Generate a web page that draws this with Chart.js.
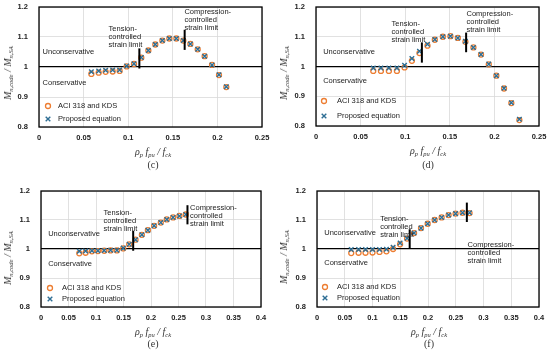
<!DOCTYPE html>
<html>
<head>
<meta charset="utf-8">
<script src="https://cdn.jsdelivr.net/npm/chart.js@4.4.1/dist/chart.umd.min.js"></script>
<style>
    body { margin: 0; background: #fff; width: 550px; height: 359px; overflow: hidden; position: relative; }
    .panel { position: absolute; width: 275px; height: 180px; }
    .panel canvas { position: absolute; left: 0; top: 0; }
    .ytitle, .xtitle, .caption {
        position: absolute; white-space: nowrap; color: #333; line-height: 1;
        font-family: 'Liberation Serif', 'DejaVu Serif', serif;
    }
    .ytitle { font-style: italic; font-size: 10px; transform: translate(-50%, -50%) rotate(-90deg); }
    .xtitle { font-style: italic; font-size: 10px; transform: translate(-50%, -50%); }
    .ytitle sub, .xtitle sub { font-size: 6.5px; vertical-align: baseline; position: relative; top: 0.35em; }
    .caption { font-size: 10px; transform: translate(-50%, -50%); }
</style>
</head>
<body>

<div class="panel" id="panelC" style="left:0;top:0"><canvas id="chartC" width="275" height="180"></canvas></div>
<div class="panel" id="panelD" style="left:275px;top:0"><canvas id="chartD" width="275" height="180"></canvas></div>
<div class="panel" id="panelE" style="left:0;top:180px"><canvas id="chartE" width="275" height="180"></canvas></div>
<div class="panel" id="panelF" style="left:275px;top:180px"><canvas id="chartF" width="275" height="180"></canvas></div>

<script>
// tick labels
const xTicksShort = [0, 0.05, 0.1, 0.15, 0.2, 0.25];
const xLabelsShort = ['0', '0.05', '0.1', '0.15', '0.2', '0.25'];
const xTicksLong = [0, 0.05, 0.1, 0.15, 0.2, 0.25, 0.3, 0.35, 0.4];
const xLabelsLong = ['0', '0.05', '0.1', '0.15', '0.2', '0.25', '0.3', '0.35', '0.4'];
const yTicks = [0.8, 0.9, 1, 1.1, 1.2];
const yLabels = ['0.8', '0.9', '1', '1.1', '1.2'];

// (c)
const xC = [0.0587, 0.0669, 0.0747, 0.0826, 0.0904, 0.0983, 0.1065, 0.1147, 0.1226, 0.1304, 0.1383, 0.1461, 0.154, 0.1618, 0.1697, 0.1779, 0.1857, 0.194, 0.2018, 0.21];
const aciC = [0.977, 0.981, 0.984, 0.985, 0.987, 1.002, 1.010, 1.031, 1.055, 1.075, 1.088, 1.095, 1.095, 1.088, 1.077, 1.059, 1.036, 1.007, 0.973, 0.933];
const propC = [0.984, 0.987, 0.989, 0.990, 0.990, 1.003, 1.011, 1.032, 1.055, 1.075, 1.088, 1.095, 1.095, 1.088, 1.077, 1.059, 1.036, 1.007, 0.974, 0.934];
const tensionC = [0.1125, 0.995, 1.062];
const compressionC = [0.1633, 1.057, 1.124];

// (d)
const xD = [0.0642, 0.0728, 0.0817, 0.0907, 0.0993, 0.1075, 0.116, 0.125, 0.1332, 0.1422, 0.1507, 0.159, 0.1675, 0.1765, 0.185, 0.1937, 0.2022, 0.2108, 0.219, 0.228];
const aciD = [0.985, 0.985, 0.985, 0.985, 0.997, 1.019, 1.045, 1.070, 1.090, 1.100, 1.102, 1.096, 1.083, 1.064, 1.040, 1.007, 0.969, 0.926, 0.877, 0.820];
const propD = [0.995, 0.995, 0.995, 0.995, 1.004, 1.027, 1.051, 1.075, 1.091, 1.100, 1.102, 1.096, 1.085, 1.064, 1.040, 1.008, 0.969, 0.927, 0.878, 0.823];
const tensionD = [0.1187, 1.013, 1.081];
const compressionD = [0.1683, 1.048, 1.114];

// (e)
const xE = [0.0696, 0.0811, 0.0926, 0.1035, 0.115, 0.1265, 0.138, 0.1495, 0.1604, 0.1719, 0.1834, 0.1943, 0.2057, 0.2178, 0.2287, 0.2402, 0.2517, 0.2632];
const aciE = [0.985, 0.987, 0.992, 0.993, 0.994, 0.995, 0.995, 1.002, 1.016, 1.032, 1.049, 1.065, 1.080, 1.091, 1.102, 1.109, 1.114, 1.119];
const propE = [0.992, 0.993, 0.994, 0.994, 0.995, 0.996, 0.996, 1.003, 1.016, 1.032, 1.049, 1.065, 1.080, 1.091, 1.102, 1.109, 1.114, 1.119];
const tensionE = [0.1676, 0.994, 1.063];
const compressionE = [0.2663, 1.085, 1.151];

// (f)
const xF = [0.0617, 0.0749, 0.0874, 0.1, 0.1126, 0.1251, 0.1371, 0.1497, 0.1623, 0.1749, 0.1874, 0.1994, 0.212, 0.2246, 0.2371, 0.2497, 0.2623, 0.2749];
const aciF = [0.986, 0.987, 0.987, 0.988, 0.990, 0.992, 1.000, 1.016, 1.036, 1.055, 1.072, 1.087, 1.100, 1.109, 1.117, 1.122, 1.125, 1.124];
const propF = [0.998, 0.998, 0.998, 0.998, 0.998, 0.999, 1.006, 1.021, 1.037, 1.055, 1.072, 1.087, 1.100, 1.109, 1.117, 1.122, 1.125, 1.125];
const tensionF = [0.167, 1.0, 1.068];
const compressionF = [0.270, 1.093, 1.160];

const seriesNames = ['ACI 318 and KDS', 'Proposed equation'];
const tensionText = ['Tension-', 'controlled', 'strain limit'];
const compressionText = ['Compression-', 'controlled', 'strain limit'];

const colors = {
    aci: '#ED7D31',
    prop: '#2E6E94',
    grid: '#d9d9d9',
    text: '#222'
};
const textFont = '7.5px "Liberation Sans", Arial, sans-serif';
const tickFont = { family: '"Liberation Sans", Arial, sans-serif', size: 7.5, weight: 'bold' };

function drawCircle(ctx, x, y) {
    ctx.save();
    ctx.strokeStyle = colors.aci;
    ctx.lineWidth = 1.3;
    ctx.beginPath();
    ctx.arc(x, y, 2.5, 0, Math.PI * 2);
    ctx.stroke();
    ctx.restore();
}

function drawCross(ctx, x, y) {
    const r = 2.3;
    ctx.save();
    ctx.strokeStyle = colors.prop;
    ctx.lineWidth = 1.4;
    ctx.beginPath();
    ctx.moveTo(x - r, y - r); ctx.lineTo(x + r, y + r);
    ctx.moveTo(x - r, y + r); ctx.lineTo(x + r, y - r);
    ctx.stroke();
    ctx.restore();
}

// frame, region labels, limit captions and the in-plot legend
const decorPlugin = {
    id: 'decor',
    beforeDatasetsDraw(chart, args, opts) {
        const a = chart.chartArea;
        const ctx = chart.ctx;
        ctx.save();
        ctx.strokeStyle = '#000';
        ctx.lineWidth = 1.3;
        ctx.strokeRect(a.left, a.top, a.right - a.left, a.bottom - a.top);
        ctx.restore();
    },
    afterDatasetsDraw(chart, args, opts) {
        const ctx = chart.ctx;
        const xs = chart.scales.x, ys = chart.scales.y;
        const a = chart.chartArea;
        ctx.save();
        ctx.font = textFont;
        ctx.fillStyle = colors.text;
        ctx.textAlign = 'left';
        ctx.textBaseline = 'middle';

        const block = (lines, pos) => {
            const px = xs.getPixelForValue(pos[0]);
            const py = ys.getPixelForValue(pos[1]);
            lines.forEach((t, i) => ctx.fillText(t, px, py + i * 8));
        };
        block(tensionText, opts.tensionPos);
        block(compressionText, opts.compressionPos);
        block(['Unconservative'], opts.unconsPos);
        block(['Conservative'], opts.consPos);

        const lg = opts.legend;
        const y1 = a.bottom + lg.dy1, y2 = a.bottom + lg.dy2;
        drawCircle(ctx, a.left + lg.dx, y1);
        drawCross(ctx, a.left + lg.dx, y2);
        ctx.fillText(seriesNames[0], a.left + lg.textDx, y1);
        ctx.fillText(seriesNames[1], a.left + lg.textDx, y2);
        ctx.restore();
    }
};

function toPoints(xs, ys) {
    return xs.map((x, i) => ({ x: x, y: ys[i] }));
}

function limitLine(lim) {
    return {
        type: 'line',
        data: [{ x: lim[0], y: lim[1] }, { x: lim[0], y: lim[2] }],
        borderColor: '#000',
        borderWidth: 2,
        pointRadius: 0,
        showLine: true,
        order: 0
    };
}

function makePanel(id, cfg) {
    const ctx = document.getElementById(id).getContext('2d');
    return new Chart(ctx, {
        type: 'scatter',
        data: {
            datasets: [
                {
                    label: seriesNames[1],
                    data: toPoints(cfg.x, cfg.prop),
                    pointStyle: 'crossRot',
                    pointRadius: 3.2,
                    pointBorderWidth: 1.4,
                    pointBorderColor: colors.prop,
                    pointBackgroundColor: colors.prop,
                    order: 1
                },
                {
                    label: seriesNames[0],
                    data: toPoints(cfg.x, cfg.aci),
                    pointStyle: 'circle',
                    pointRadius: 2.5,
                    pointBorderWidth: 1.3,
                    pointBorderColor: colors.aci,
                    pointBackgroundColor: 'rgba(255,255,255,0)',
                    order: 2
                },
                limitLine(cfg.tension),
                limitLine(cfg.compression)
            ]
        },
        options: {
            responsive: false,
            animation: false,
            events: [],
            layout: { padding: cfg.padding },
            plugins: {
                legend: { display: false },
                tooltip: { enabled: false },
                decor: cfg.decor
            },
            scales: {
                x: {
                    type: 'linear',
                    min: 0,
                    max: cfg.xTicks[cfg.xTicks.length - 1],
                    afterBuildTicks: s => { s.ticks = cfg.xTicks.map(v => ({ value: v })); },
                    afterFit: s => { s.height = 20; },
                    border: { display: false },
                    grid: { color: colors.grid, lineWidth: 0.8, drawTicks: true, tickLength: 6, tickColor: 'rgba(0,0,0,0)' },
                    ticks: {
                        padding: 0,
                        maxRotation: 0,
                        color: colors.text,
                        font: tickFont,
                        callback: (v, i) => cfg.xLabels[i]
                    }
                },
                y: {
                    type: 'linear',
                    min: 0.8,
                    max: 1.2,
                    afterBuildTicks: s => { s.ticks = yTicks.map(v => ({ value: v })); },
                    afterFit: s => { s.width = cfg.yWidth; },
                    border: { display: false },
                    grid: {
                        drawTicks: true,
                        tickLength: 11,
                        tickColor: 'rgba(0,0,0,0)',
                        color: c => c.tick && c.tick.value === 1 ? '#000' : colors.grid,
                        lineWidth: c => c.tick && c.tick.value === 1 ? 1.3 : 0.8
                    },
                    ticks: {
                        padding: 0,
                        color: colors.text,
                        font: tickFont,
                        callback: (v, i) => yLabels[i]
                    }
                }
            }
        },
        plugins: [decorPlugin]
    });
}

function addTitles(panelId, t) {
    const p = document.getElementById(panelId);
    const y = document.createElement('div');
    y.className = 'ytitle';
    y.style.left = t.y[0] + 'px'; y.style.top = t.y[1] + 'px';
    y.innerHTML = 'M<sub>n,code</sub> / M<sub>n,SA</sub>';
    p.appendChild(y);
    const x = document.createElement('div');
    x.className = 'xtitle';
    x.style.left = t.x[0] + 'px'; x.style.top = t.x[1] + 'px';
    x.innerHTML = '\u03C1<sub>p</sub> f<sub>pu</sub> / f<sub>ck</sub>';
    p.appendChild(x);
    const c = document.createElement('div');
    c.className = 'caption';
    c.style.left = t.c[0] + 'px'; c.style.top = t.c[1] + 'px';
    c.textContent = t.label;
    p.appendChild(c);
}

makePanel('chartC', {
    x: xC, aci: aciC, prop: propC, tension: tensionC, compression: compressionC,
    xTicks: xTicksShort, xLabels: xLabelsShort,
    yWidth: 39, padding: { left: 0, right: 13, top: 7, bottom: 33 },
    decor: {
        tensionPos: [0.078, 1.127], compressionPos: [0.163, 1.184],
        unconsPos: [0.004, 1.05], consPos: [0.004, 0.946],
        legend: { dx: 9, textDx: 19, dy1: -21, dy2: -8 }
    }
});
makePanel('chartD', {
    x: xD, aci: aciD, prop: propD, tension: tensionD, compression: compressionD,
    xTicks: xTicksShort, xLabels: xLabelsShort,
    yWidth: 41, padding: { left: 0, right: 11, top: 7, bottom: 34 },
    decor: {
        tensionPos: [0.0847, 1.1426], compressionPos: [0.1687, 1.177],
        unconsPos: [0.008, 1.049], consPos: [0.008, 0.951],
        legend: { dx: 8, textDx: 21, dy1: -25, dy2: -10 }
    }
});
makePanel('chartE', {
    x: xE, aci: aciE, prop: propE, tension: tensionE, compression: compressionE,
    xTicks: xTicksLong, xLabels: xLabelsLong,
    yWidth: 41, padding: { left: 0, right: 14, top: 11, bottom: 33 },
    decor: {
        tensionPos: [0.1138, 1.126], compressionPos: [0.271, 1.141],
        unconsPos: [0.013, 1.051], consPos: [0.013, 0.949],
        legend: { dx: 9, textDx: 21, dy1: -19, dy2: -8 }
    }
});
makePanel('chartF', {
    x: xF, aci: aciF, prop: propF, tension: tensionF, compression: compressionF,
    xTicks: xTicksLong, xLabels: xLabelsLong,
    yWidth: 42, padding: { left: 0, right: 11, top: 11, bottom: 33 },
    decor: {
        tensionPos: [0.1138, 1.105], compressionPos: [0.2713, 1.015],
        unconsPos: [0.013, 1.054], consPos: [0.013, 0.951],
        legend: { dx: 8, textDx: 20, dy1: -20, dy2: -9 }
    }
});

addTitles('panelC', { y: [8, 73], x: [153, 152], c: [153, 165], label: '(c)' });
addTitles('panelD', { y: [9, 73], x: [153, 151], c: [153, 165], label: '(d)' });
addTitles('panelE', { y: [8, 78], x: [153, 152], c: [153, 164], label: '(e)' });
addTitles('panelF', { y: [9, 77], x: [154, 152], c: [154, 164], label: '(f)' });
</script>
</body>
</html>
